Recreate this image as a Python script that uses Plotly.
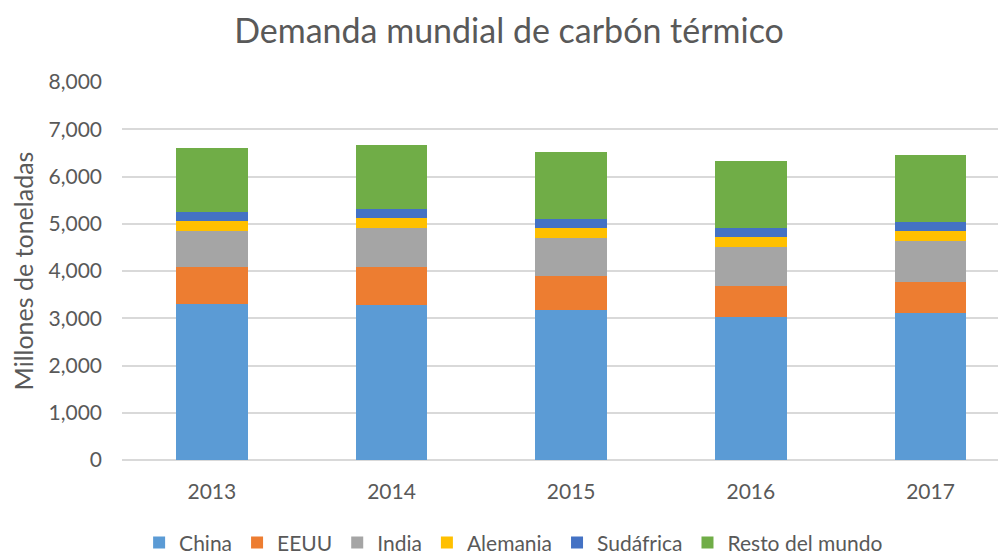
import plotly.graph_objects as go

years = ["2013", "2014", "2015", "2016", "2017"]
china = [3310, 3280, 3165, 3030, 3115]
eeuu = [785, 795, 730, 655, 650]
india = [760, 830, 800, 825, 865]
alemania = [210, 210, 225, 210, 220]
sudafrica = [190, 190, 190, 190, 190]
resto = [1340, 1370, 1410, 1410, 1415]

series = [
    ("China", china, "#5B9BD5"),
    ("EEUU", eeuu, "#ED7D31"),
    ("India", india, "#A5A5A5"),
    ("Alemania", alemania, "#FFC000"),
    ("Sudáfrica", sudafrica, "#4472C4"),
    ("Resto del mundo", resto, "#70AD47"),
]

FONT = "Lato"
TXT = "#595959"

fig = go.Figure()
for name, vals, col in series:
    fig.add_trace(go.Bar(
        x=list(range(len(years))), y=vals, name=name,
        marker=dict(color=col, line=dict(width=0)),
        width=0.4,
    ))

# page body has an 8px default margin; figure sized to fit the 1006x554 window
fig.update_layout(
    barmode="stack",
    width=998, height=546,
    paper_bgcolor="white", plot_bgcolor="white",
    margin=dict(l=114, r=0, t=74, b=94, autoexpand=False),
    font=dict(family=FONT, color=TXT, size=21),
    title=dict(text="Demanda mundial de carbón térmico", x=0.502, xanchor="center",
               y=0.958, yanchor="middle", font=dict(size=34, color=TXT, family=FONT)),
    xaxis=dict(
        tickmode="array", tickvals=list(range(len(years))), ticktext=years,
        range=[-0.5, 4.42], showgrid=False, zeroline=False, showline=False,
        ticks="", tickfont=dict(size=21, color=TXT), ticklabelstandoff=17,
        automargin=False,
    ),
    yaxis=dict(
        range=[0, 8000], tickvals=[0, 1000, 2000, 3000, 4000, 5000, 6000, 7000, 8000],
        tickformat=",d", showgrid=True, gridcolor="#D9D9D9", gridwidth=1.5,
        zeroline=True, zerolinecolor="#D9D9D9", zerolinewidth=1.5,
        tickfont=dict(size=21, color=TXT), ticklabelstandoff=19,
        title=dict(text="Millones de toneladas", font=dict(size=25, color=TXT), standoff=8),
        automargin=False,
    ),
    legend=dict(
        orientation="h", x=0.443, xanchor="center", y=-0.165, yanchor="top",
        font=dict(size=21, color=TXT), traceorder="normal",
        itemwidth=30, tracegroupgap=0,
    ),
    bargap=0.6,
)

fig.write_html("out.html")
